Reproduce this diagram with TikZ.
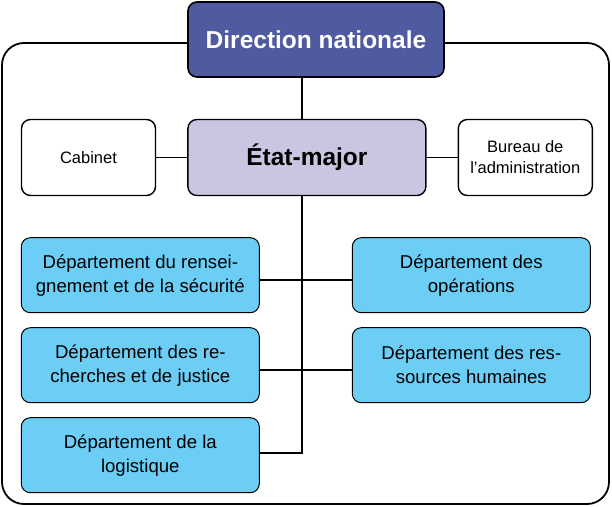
\documentclass[tikz,border=0pt]{standalone}
\usepackage{fontspec}
\setmainfont{Liberation Sans}
\usetikzlibrary{positioning}
\definecolor{DNavy}{HTML}{4F5AA0}
\definecolor{DLilac}{HTML}{C8C6E0}
\definecolor{DSky}{HTML}{6DCEF5}
\definecolor{DInk}{HTML}{000000}

\begin{document}
\begin{tikzpicture}[
  x=1pt, y=1pt, node distance=41pt and 31pt,
  every node/.style={text=DInk, inner sep=2pt},
  head/.style ={draw=DInk, fill=DNavy, rounded corners=9pt, line width=1.6pt,
                minimum width=256pt, minimum height=75pt, align=center,
                text=white, font=\fontsize{24.5}{28}\selectfont\bfseries},
  staff/.style={draw=DInk, fill=DLilac, rounded corners=9pt, line width=1.4pt,
                minimum width=238pt, minimum height=76pt, align=center,
                font=\fontsize{24.5}{28}\selectfont\bfseries},
  aide/.style ={draw=DInk, fill=white, rounded corners=9pt, line width=1.4pt,
                minimum width=134pt, minimum height=76pt, align=center,
                font=\fontsize{16.5}{21}\selectfont},
  dept/.style ={draw=DInk, fill=DSky, rounded corners=9pt, line width=1pt,
                minimum width=238pt, minimum height=75pt, align=center,
                font=\fontsize{18.6}{24}\selectfont},
  frame/.style={draw=DInk, rounded corners=22pt, line width=1.8pt},
  link/.style ={draw=DInk, line width=1.6pt},
]
\useasboundingbox (0,0) rectangle (612,-506);
\draw[frame] (2,-43) rectangle (609,-504);
\node[head] (dn) at (316,-39.5) {Direction nationale};
\node[staff, below=of dn.south west, anchor=north west] (em) {État-major};
\node[aide, left=of em]  (cab) {Cabinet};
\node[aide, right=of em] (bur) {Bureau de\\l’administration};
\node[dept, below=of cab.south west, anchor=north west] (ren) {Département du rensei-\\gnement et de la sécurité};
\node[dept, below=14pt of ren] (rec) {Département des re-\\cherches et de justice};
\node[dept, below=14pt of rec] (log) {Département de la\\logistique};
\node[dept, right=92pt of ren] (ops) {Département des\\opérations};
\node[dept, right=92pt of rec] (rh)  {Département des res-\\sources humaines};
\coordinate (tr) at (302,0);
% liaisons
\draw[link] (dn.south -| tr) -- (em.north -| tr);
\draw[link] (cab) -- (em); \draw[link] (em) -- (bur);
\draw[link] (em.south -| tr) |- ([yshift=2pt]log.east);
\draw[link] ([yshift=-5pt]ren.east) -- ([yshift=-5pt]ops.west);
\draw[link] ([yshift=-5pt]rec.east) -- ([yshift=-5pt]rh.west);
\end{tikzpicture}
\end{document}
